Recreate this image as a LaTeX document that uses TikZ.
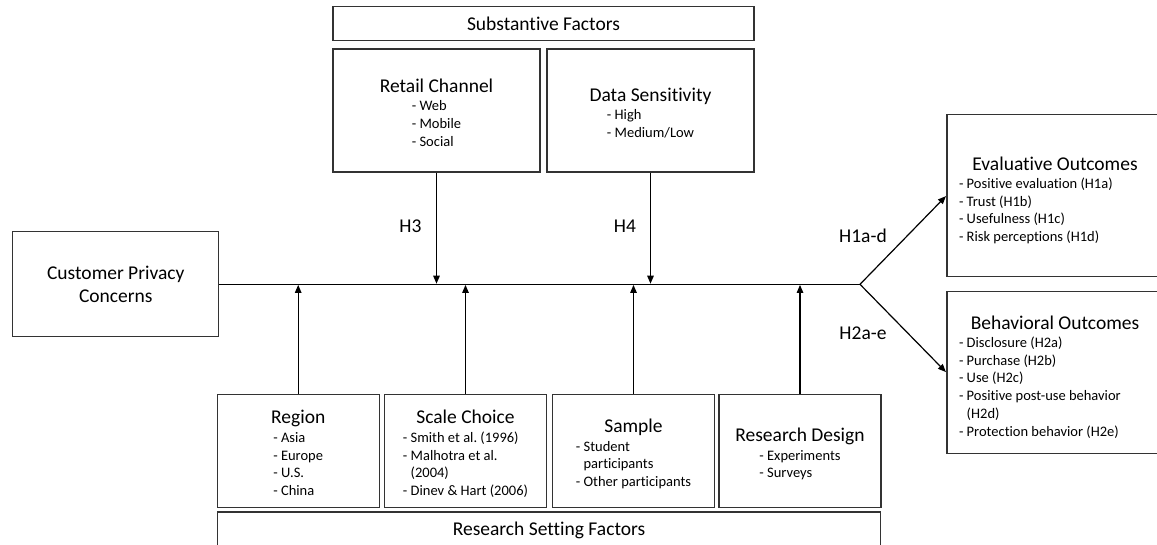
\documentclass[tikz,border=0pt]{standalone}
\usepackage{fontspec}
\setmainfont{Carlito}[Ligatures=NoCommon]
\usetikzlibrary{arrows.meta}
\frenchspacing
\newcommand{\ttl}[1]{{\fontsize{19.5}{23.4}\selectfont\rule{0pt}{23pt}#1}}
\newcommand{\items}[1]{\begin{tabular}[t]{@{}l@{}}#1\end{tabular}}
\newcommand{\outitems}[1]{\begin{minipage}[t]{192pt}\raggedright #1\end{minipage}}
\tikzstyle{box}=[draw=black!80, line width=1.3pt, inner sep=0pt, align=center,
font=\fontsize{14.5}{17.8}\selectfont]
\tikzstyle{factor}=[box, minimum width=207pt, minimum height=123pt]
\tikzstyle{setting}=[box, minimum width=162pt, minimum height=113pt]
\tikzstyle{outcome}=[box, minimum width=216pt, minimum height=162pt]
\tikzstyle{banner}=[box, minimum height=34pt, font=\fontsize{19.5}{23.4}\selectfont]
\tikzstyle{hyp}=[font=\fontsize{19.5}{23.4}\selectfont]
\tikzstyle{link}=[line width=1.2pt, shorten >=0.6pt, -{Triangle[length=8pt,width=6.5pt]}]

\begin{document}
\begin{tikzpicture}[x=1pt,y=-1pt]
\useasboundingbox (0,0) rectangle (1157,545);
\fill[white] (0,0) rectangle (1157,545);

\node[banner, minimum width=421pt](subbanner)at (543.5,23.7){Substantive Factors};
\node[factor](factor1)at (436.5,110.5){\ttl{Retail Channel}\\[1pt]\items{- Web\\- Mobile\\- Social}};
\node[factor](factor2)at (650.5,110.5){\ttl{Data Sensitivity}\\[1pt]\items{- High\\- Medium/Low}};

\node[box, minimum width=206pt, minimum height=105pt, font=\fontsize{19.5}{23.4}\selectfont](concern)at (115.8,284.3){Customer Privacy\\Concerns};
\coordinate (fork) at (860,284.3);

\node[setting](setting1)at (298.2,450.7){\ttl{Region}\\[1pt]\items{- Asia\\- Europe\\- U.S.\\- China}};
\node[setting](setting2)at (465.5,450.7){\ttl{Scale Choice}\\[1pt]\items{- Smith et al. (1996)\\- Malhotra et al.\\\phantom{- }(2004)\\- Dinev \& Hart (2006)}};
\node[setting](setting3)at (633.5,450.7){\ttl{Sample}\\[1pt]\items{- Student\\\phantom{- }participants\\- Other participants}};
\node[setting](setting4)at (800,450.7){\ttl{Research Design}\\[1pt]\items{- Experiments\\- Surveys}};
\node[banner, minimum width=663.4pt, minimum height=36pt](setbanner)at (549,530){Research Setting Factors};

\node[outcome](outcome1)at (1055,195.7){\ttl{Evaluative Outcomes}\\[0pt]\outitems{- Positive evaluation (H1a)\\- Trust (H1b)\\- Usefulness (H1c)\\- Risk perceptions (H1d)}};
\node[outcome, minimum height=161.6pt](outcome2)at (1055,372.5){\ttl{Behavioral Outcomes}\\[0pt]\outitems{- Disclosure (H2a)\\- Purchase (H2b)\\- Use (H2c)\\- Positive post-use behavior\\\phantom{- }(H2d)\\- Protection behavior (H2e)}};

\node[hyp](h3)at (410.5,226){H3};
\node[hyp](h4)at (625,226){H4};
\node[hyp](h1)at (863,236){H1a-d};
\node[hyp](h2)at (863,333){H2a-e};

\draw [line width=1.2pt](concern) -- (fork);
\draw [link](fork) -- (outcome1.west);
\draw [link](fork) -- (outcome2.west);

\draw [link](factor1) -- (factor1 |- fork);
\draw [link](factor2) -- (factor2 |- fork);

\draw [link](setting1) -- (setting1 |- fork);
\draw [link](setting2) -- (setting2 |- fork);
\draw [link](setting3) -- (setting3 |- fork);
\draw [link](setting4) -- (setting4 |- fork);
\end{tikzpicture}
\end{document}
